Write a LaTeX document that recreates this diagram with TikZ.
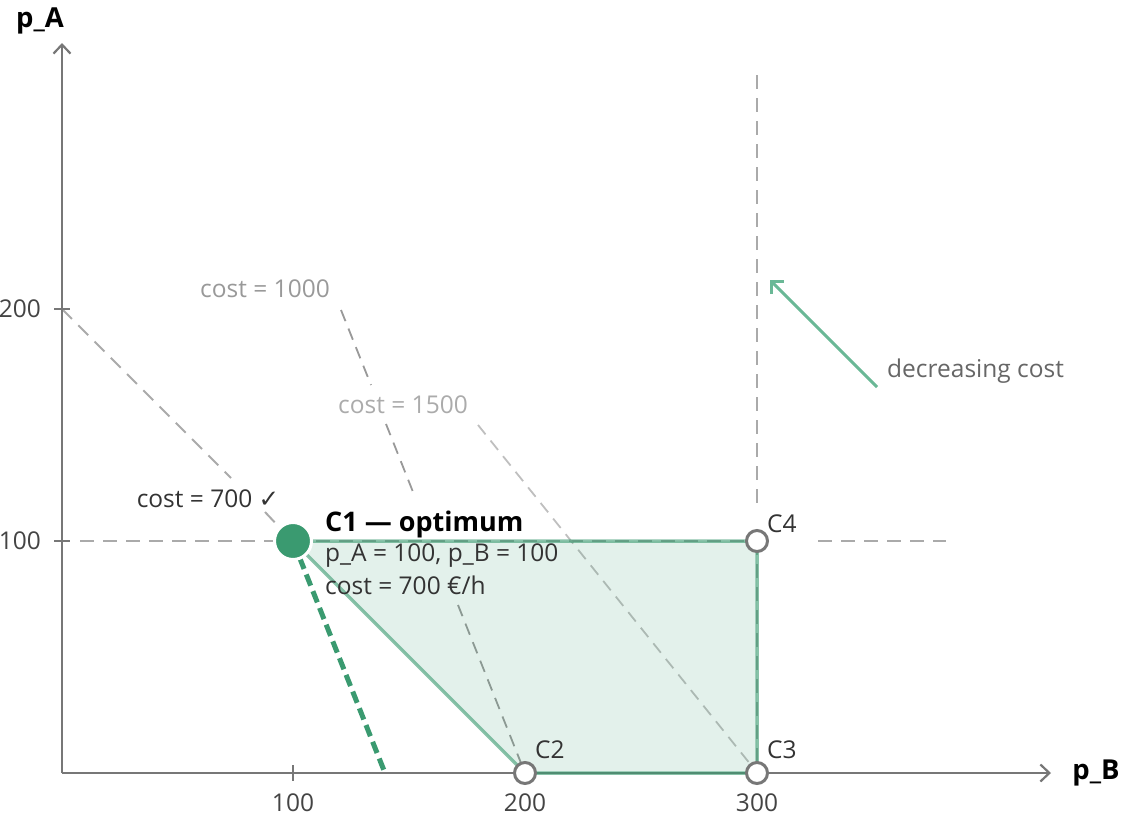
\documentclass[tikz,border=0pt]{standalone}
\usepackage{fontspec}
\setmainfont{Open Sans}
\newfontfamily\symfont{DejaVu Sans}
\usetikzlibrary{arrows.meta}
\definecolor{axisgray}{HTML}{777777}
\definecolor{optgreen}{HTML}{3A9A70}
\definecolor{arrowgreen}{HTML}{6AB896}
\definecolor{txtdark}{HTML}{333333}
\definecolor{ticktxt}{HTML}{444444}
\definecolor{dashgray}{HTML}{AAAAAA}
\begin{document}
\begin{tikzpicture}[x=1pt,y=-1pt,
  lbl/.style={font=\fontsize{24.5}{29}\selectfont, inner sep=0pt},
  ticklbl/.style={lbl, text=ticktxt},
  axislbl/.style={font=\fontsize{27.5}{31}\selectfont\bfseries, inner sep=0pt, text=black},
  axisline/.style={draw=axisgray, line width=2.5pt, -{Straight Barb[length=9pt,width=17pt,line width=2.2pt]}},
  tickmark/.style={draw=axisgray, line width=2pt},
  constraint/.style={draw=dashgray, line width=2pt, dash pattern=on 14pt off 9pt},
  isoline/.style={line width=1.8pt, dash pattern=on 12pt off 8pt},
  region/.style={fill=optgreen, fill opacity=0.14},
  regionedge/.style={draw=optgreen, draw opacity=0.6, line width=3.5pt, line join=round},
  vertex/.style={circle, draw=axisgray, fill=white, line width=3pt, minimum size=21pt, inner sep=0pt},
  optvertex/.style={circle, draw=white, fill=optgreen, line width=3pt, minimum size=37pt, inner sep=0pt}]
\useasboundingbox (0,0) rectangle (1135,822);

% key points
\coordinate (O) at (62,773);
\coordinate (xend) at (1051,773);
\coordinate (yend) at (62,43);
\coordinate (pC1) at (293,541);
\coordinate (pC2) at (525,773);
\coordinate (pC3) at (757,773);
\coordinate (pC4) at (757,541);

% constraint lines (gray dashed)
\coordinate (a200) at (62,309);
\coordinate (d1) at (231,478);
\coordinate (d2) at (265,512);
\coordinate (d3) at (281,529);
\draw[constraint] (a200) -- (d1);
\draw[constraint] (d2) -- (d3);
\coordinate (h0) at (80,541);
\coordinate (h1) at (276,541);
\coordinate (h2) at (818,541);
\coordinate (h3) at (946,541);
\draw[constraint] (h0) -- (h1);
\draw[constraint] (pC1) -- (pC4);
\draw[constraint] (h2) -- (h3);
\coordinate (v0) at (757,75);
\coordinate (v1) at (757,506);
\draw[constraint] (v0) -- (v1);
\draw[constraint] (pC4) -- (pC3);

% iso-cost lines
\coordinate (k0) at (341,310);
\coordinate (k1) at (371,385);
\coordinate (k2) at (386,424);
\coordinate (k3) at (415,497);
\coordinate (k4) at (458,605);
\coordinate (k5) at (521,763);
\draw[isoline, draw=gray!80] (k0) -- (k1);
\draw[isoline, draw=gray!80] (k2) -- (k3);
\draw[isoline, draw=gray!80] (k4) -- (k5);
\coordinate (m0) at (478,425);
\coordinate (m1) at (751,765);
\draw[isoline, draw=gray!50] (m0) -- (m1);

% axes
\draw[axisline] (O) -- (xend);
\draw[axisline] (O) -- (yend);
\foreach \x/\t in {293/100,525/200,757/300}{
  \draw[tickmark] (\x,765) -- (\x,781);
  \node[ticklbl] at (\x,803) {\t};
}
\foreach \y/\t in {309/200,541/100}{
  \draw[tickmark] (54,\y) -- (70,\y);
  \node[ticklbl, anchor=east] at (41,\y) {\t};
}
\node[axislbl] (pAlbl) at (40,21) {p\_A};
\node[axislbl] (pBlbl) at (1096,773) {p\_B};

% feasible region
\fill[region] (pC1) -- (pC2) -- (pC3) -- (pC4) -- cycle;
\draw[regionedge] (pC1) -- (pC2) -- (pC3) -- (pC4) -- cycle;

% optimal iso-cost line
\coordinate (opt1) at (385,773);
\draw[draw=optgreen, line width=5pt, dash pattern=on 12pt off 6pt] (pC1) -- (opt1);

% decreasing cost arrow
\coordinate (arrS) at (877,387);
\coordinate (arrE) at (770,280);
\draw[draw=arrowgreen, line width=3pt, -{Straight Barb[length=9pt,width=18pt,line width=2.6pt]}] (arrS) -- (arrE);
\node[lbl, text=black!60, anchor=west] (declbl) at (887,371) {decreasing cost};

% vertices
\node[optvertex] (C1) at (pC1) {};
\node[vertex] (C2) at (pC2) {};
\node[vertex] (C3) at (pC3) {};
\node[vertex] (C4) at (pC4) {};
\node[lbl, text=txtdark, anchor=west] (C2lbl) at (535,750) {C2};
\node[lbl, text=txtdark, anchor=west] (C3lbl) at (767,750) {C3};
\node[lbl, text=txtdark, anchor=west] (C4lbl) at (767,524) {C4};

% labels
\node[lbl, text=black!40] (c1000) at (265,289) {cost = 1000};
\node[lbl, text=black!33] (c1500) at (403,405) {cost = 1500};
\node[lbl, text=txtdark] (c700) at (208,499) {cost = 700 {\symfont ✓}};
\node[font=\fontsize{27}{31}\selectfont\bfseries, inner sep=0pt, text=black, anchor=west] (optT) at (325,524) {C1 — optimum};
\node[lbl, text=txtdark, anchor=west] (optA) at (325,556) {p\_A = 100, p\_B = 100};
\node[lbl, text=txtdark, anchor=west] (optB) at (325,585) {cost = 700 €/h};
\end{tikzpicture}
\end{document}
